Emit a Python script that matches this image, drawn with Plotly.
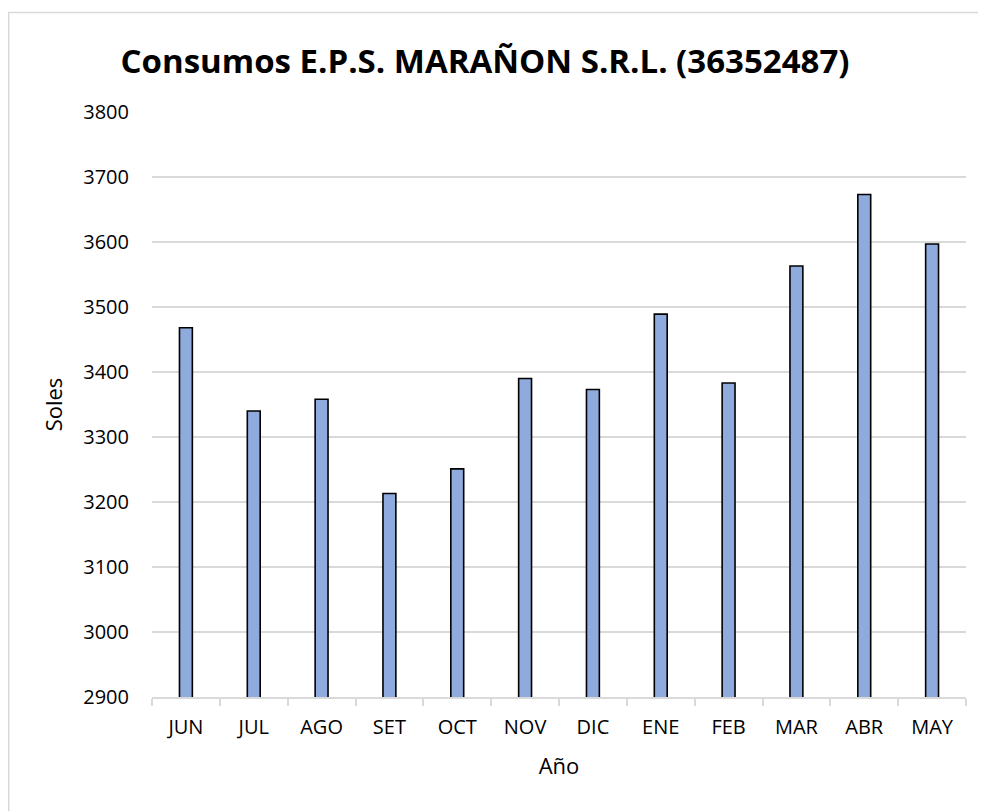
import plotly.graph_objects as go

months = ["JUN", "JUL", "AGO", "SET", "OCT", "NOV", "DIC", "ENE", "FEB", "MAR", "ABR", "MAY"]
soles = [3468, 3340, 3358, 3213, 3251, 3390, 3373, 3489, 3383, 3563, 3673, 3597]
y_ticks = [2900, 3000, 3100, 3200, 3300, 3400, 3500, 3600, 3700, 3800]

FONT = "'Open Sans', Lato, sans-serif"
W, H = 978, 803
L, R, T, B = 144, 20, 104, 114

fig = go.Figure(go.Bar(
    x=months, y=soles,
    marker=dict(color="#8FAADC", line=dict(color="#000000", width=1.6)),
))

plot_w = W - L - R
plot_h = H - T - B

fig.update_layout(
    width=W, height=H,
    margin=dict(l=L, r=R, t=T, b=B),
    paper_bgcolor="white", plot_bgcolor="white",
    bargap=0.81,
    showlegend=False,
    font=dict(family=FONT, size=20, color="#000000"),
    title=dict(text="<b>Consumos E.P.S. MARAÑON S.R.L. (36352487)</b>",
               x=477 / W, xanchor="center", xref="container",
               y=1 - 53 / H, yanchor="middle", yref="container",
               font=dict(family=FONT, size=33, color="#000000")),
    xaxis=dict(
        title=dict(text="Año", standoff=20, font=dict(size=22)),
        showline=True, linecolor="#D9D9D9", linewidth=1.5,
        ticks="outside", tickson="boundaries", ticklen=7, tickcolor="#D9D9D9", tickwidth=1.5,
        showgrid=False, tickfont=dict(size=20), ticklabelstandoff=11,
    ),
    yaxis=dict(
        title=dict(text="Soles", standoff=14, font=dict(size=22)),
        range=[2900, 3800], tickvals=y_ticks,
        showgrid=True, gridcolor="#D9D9D9", gridwidth=1.5,
        showline=False, zeroline=False, ticks="", tickfont=dict(size=20),
        ticklabelstandoff=22,
    ),
    shapes=[dict(type="rect", xref="paper", yref="paper",
                 x0=(0.75 - L) / plot_w, x1=1.2,
                 y0=-0.4, y1=(plot_h + T - 4.5) / plot_h,
                 line=dict(color="#D9D9D9", width=1.5), fillcolor="rgba(0,0,0,0)",
                 layer="below")],
)

fig.write_html("out.html")
